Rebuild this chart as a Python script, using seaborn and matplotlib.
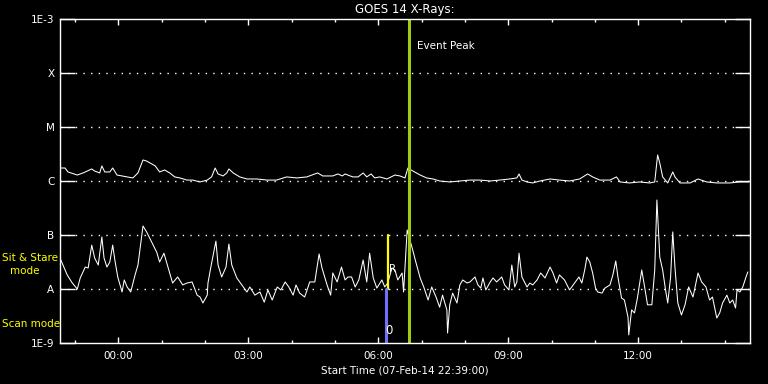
import numpy as np
import pandas as pd
import seaborn as sns
import matplotlib.pyplot as plt
import matplotlib.dates as mdates

# minutes after start time (07-Feb-14 22:39:00) and flux (W/m^2)
long_min = [0, 7, 11, 24, 32, 44, 48, 55, 58, 62, 69, 73, 79, 86, 93, 101, 108, 115, 120, 125,
            132, 138, 145, 152, 159, 166, 176, 184, 194, 204, 210, 215, 219, 226, 231, 234, 240, 249, 259, 273,
            287, 300, 314, 328, 342, 349, 357, 364, 378, 385, 391, 395, 402, 406, 413, 420, 425, 431, 436, 443,
            453, 464, 471, 478, 482, 489, 499, 508, 517, 526, 540, 554, 568, 582, 596, 609, 623, 633, 636, 640,
            647, 655, 665, 679, 692, 706, 720, 731, 738, 748, 762, 771, 776, 789, 803, 817, 824, 828, 831, 835,
            842, 849, 852, 859, 873, 884, 896, 910, 928, 942, 954]
long_flux = [1.74e-6, 1.74e-6, 1.47e-6, 1.29e-6, 1.41e-6, 1.67e-6, 1.53e-6, 1.41e-6, 1.90e-6, 1.47e-6,
             1.47e-6, 1.74e-6, 1.29e-6, 1.24e-6, 1.19e-6, 1.14e-6, 1.41e-6, 2.45e-6, 2.34e-6, 2.15e-6,
             1.90e-6, 1.47e-6, 1.60e-6, 1.41e-6, 1.19e-6, 1.14e-6, 1.04e-6, 1.04e-6, 9.6e-7, 1.04e-6,
             1.19e-6, 1.74e-6, 1.35e-6, 1.24e-6, 1.41e-6, 1.67e-6, 1.41e-6, 1.19e-6, 1.09e-6, 1.09e-6,
             1.04e-6, 1.04e-6, 1.19e-6, 1.14e-6, 1.19e-6, 1.29e-6, 1.41e-6, 1.24e-6, 1.24e-6, 1.35e-6,
             1.24e-6, 1.35e-6, 1.24e-6, 1.19e-6, 1.19e-6, 1.41e-6, 1.19e-6, 1.35e-6, 1.14e-6, 1.19e-6,
             1.09e-6, 1.29e-6, 1.24e-6, 1.14e-6, 1.74e-6, 1.53e-6, 1.29e-6, 1.14e-6, 1.09e-6, 1.0e-6,
             9.6e-7, 1.0e-6, 1.04e-6, 1.04e-6, 1.0e-6, 1.04e-6, 1.09e-6, 1.14e-6, 1.35e-6, 1.04e-6,
             9.6e-7, 9.2e-7, 1.0e-6, 1.09e-6, 1.04e-6, 1.0e-6, 1.09e-6, 1.35e-6, 1.19e-6, 1.04e-6,
             1.04e-6, 1.19e-6, 9.6e-7, 9.2e-7, 9.6e-7, 9.2e-7, 9.6e-7, 3.03e-6, 2.15e-6, 1.19e-6,
             9.2e-7, 1.47e-6, 1.19e-6, 9.2e-7, 9.2e-7, 1.09e-6, 9.6e-7, 9.2e-7, 9.2e-7, 9.6e-7, 9.6e-7]

short_min = [0, 10, 17, 24, 28, 35, 39, 44, 48, 53, 58, 61, 65, 69, 73, 76, 80, 86, 89, 93,
             98, 104, 108, 115, 120, 127, 134, 138, 144, 150, 156, 163, 170, 176, 183, 190, 194, 198, 204, 205,
             209, 216, 219, 224, 230, 234, 238, 245, 252, 259, 263, 270, 277, 283, 288, 294, 301, 306, 312, 317,
             323, 327, 332, 339, 346, 353, 359, 363, 370, 375, 378, 384, 390, 395, 399, 404, 409, 414, 420, 425,
             429, 434, 439, 446, 450, 454, 460, 464, 468, 474, 476, 481, 488, 493, 499, 504, 510, 515, 521, 526,
             530, 536, 537, 540, 544, 550, 554, 558, 564, 568, 575, 579, 583, 586, 590, 596, 600, 605, 612, 616,
             622, 626, 630, 633, 636, 640, 647, 651, 655, 661, 666, 672, 679, 683, 688, 692, 699, 706, 713, 719,
             723, 727, 730, 734, 738, 742, 745, 751, 755, 762, 766, 770, 773, 778, 782, 787, 788, 792, 796, 800,
             806, 810, 814, 820, 824, 827, 831, 835, 839, 842, 846, 849, 852, 856, 861, 866, 871, 877, 884, 889,
             895, 900, 904, 910, 914, 918, 924, 928, 932, 936, 938, 942, 946, 950, 953]
short_flux = [3.75e-8, 1.82e-8, 1.29e-8, 1.0e-8, 1.60e-8, 2.55e-8, 2.45e-8, 6.5e-8, 3.75e-8, 2.78e-8,
              9.2e-8, 3.75e-8, 2.55e-8, 3.16e-8, 6.5e-8, 3.44e-8, 1.67e-8, 8.8e-9, 1.47e-8, 1.09e-8,
              8.8e-9, 1.82e-8, 2.78e-8, 1.47e-7, 1.14e-7, 7.4e-8, 4.8e-8, 3.16e-8, 4.6e-8, 2.45e-8,
              1.29e-8, 1.67e-8, 1.19e-8, 1.29e-8, 1.35e-8, 7.7e-9, 7.1e-9, 5.5e-9, 7.7e-9, 1.29e-8,
              2.55e-8, 7.7e-8, 2.78e-8, 1.67e-8, 2.55e-8, 6.8e-8, 2.78e-8, 1.60e-8, 1.19e-8, 8.8e-9,
              1.09e-8, 7.7e-9, 8.8e-9, 5.7e-9, 9.6e-9, 6.25e-9, 1.09e-8, 9.6e-9, 1.35e-8, 1.09e-8,
              7.7e-9, 1.19e-8, 8.4e-9, 7.1e-9, 1.35e-8, 1.35e-8, 4.45e-8, 2.45e-8, 1.19e-8, 7.7e-9,
              1.98e-8, 1.35e-8, 2.55e-8, 1.47e-8, 1.67e-8, 1.67e-8, 1.09e-8, 1.47e-8, 3.44e-8, 1.35e-8,
              4.6e-8, 1.60e-8, 1.04e-8, 1.47e-8, 1.09e-8, 1.29e-8, 2.45e-8, 2.25e-8, 1.47e-8, 1.98e-8,
              8.8e-9, 1.24e-7, 5.7e-8, 3.16e-8, 1.60e-8, 1.09e-8, 6.25e-9, 1.09e-8, 7.1e-9, 4.6e-9,
              7.7e-9, 4.1e-9, 1.53e-9, 5.1e-9, 8.4e-9, 5.5e-9, 1.19e-8, 1.47e-8, 1.29e-8, 1.35e-8,
              1.67e-8, 1.19e-8, 1.04e-8, 1.60e-8, 9.6e-9, 1.35e-8, 1.60e-8, 1.35e-8, 1.67e-8, 1.19e-8,
              9.6e-9, 2.78e-8, 1.09e-8, 1.35e-8, 4.6e-8, 1.67e-8, 1.09e-8, 1.29e-8, 1.19e-8, 1.47e-8,
              1.98e-8, 1.60e-8, 2.55e-8, 1.98e-8, 1.29e-8, 1.82e-8, 1.47e-8, 9.6e-9, 1.29e-8, 1.67e-8,
              1.29e-8, 2.25e-8, 3.9e-8, 3.16e-8, 1.98e-8, 1.04e-8, 8.8e-9, 8.4e-9, 1.04e-8, 1.19e-8,
              1.82e-8, 3.30e-8, 1.67e-8, 6.8e-9, 6.25e-9, 3.0e-9, 1.41e-9, 4.1e-9, 3.6e-9, 6.8e-9,
              2.25e-8, 1.09e-8, 5.1e-9, 5.1e-9, 2.25e-8, 4.45e-7, 3.9e-8, 2.25e-8, 9.6e-9, 5.5e-9,
              1.67e-8, 1.14e-7, 2.55e-8, 5.5e-9, 3.3e-9, 5.1e-9, 1.09e-8, 7.1e-9, 1.98e-8, 1.35e-8,
              1.09e-8, 6.25e-9, 7.1e-9, 2.9e-9, 3.6e-9, 5.5e-9, 7.7e-9, 5.5e-9, 6.25e-9, 4.45e-9,
              9.6e-9, 8.8e-9, 1.09e-8, 1.60e-8, 2.07e-8]

start = pd.Timestamp('2014-02-07 22:39:00')
end_min = 956
peak_min = 483      # Event Peak
stare_min = 454     # sit & stare marker
scan_min = 451      # scan marker

class_levels = [1e-9, 1e-8, 1e-7, 1e-6, 1e-5, 1e-4, 1e-3]
class_labels = ['1E-9', 'A', 'B', 'C', 'M', 'X', '1E-3']

long_df = pd.DataFrame({'time': start + pd.to_timedelta(long_min, unit='m'), 'flux': long_flux})
short_df = pd.DataFrame({'time': start + pd.to_timedelta(short_min, unit='m'), 'flux': short_flux})

sns.set_style('dark')
plt.rcParams.update({'figure.facecolor': 'black', 'axes.facecolor': 'black',
                     'axes.edgecolor': 'white', 'text.color': 'white',
                     'xtick.color': 'white', 'ytick.color': 'white'})
plt.rcParams['font.family'] = ['DejaVu Sans']

fig = plt.figure(figsize=(7.68, 3.84), dpi=100)
ax = fig.add_axes([60/768, 41/384, 690/768, 324/384])

sns.lineplot(data=long_df, x='time', y='flux', color='white', linewidth=0.75, ax=ax)
sns.lineplot(data=short_df, x='time', y='flux', color='white', linewidth=0.75, ax=ax)

ax.set_yscale('log')
ax.set_ylim(1e-9, 1e-3)
ax.set_xlim(start, start + pd.Timedelta(minutes=end_min))

for lev in class_levels[1:-1]:
    ax.axhline(lev, color='white', linewidth=1, linestyle=(0, (1, 4.5)))

t_peak = start + pd.Timedelta(minutes=peak_min)
t_stare = start + pd.Timedelta(minutes=stare_min)
t_scan = start + pd.Timedelta(minutes=scan_min)
ax.axvline(t_peak, color='#a0cc10', linewidth=2.2)
ax.plot([t_stare, t_stare], [1e-8, 1e-7], color='#ffff00', linewidth=1.6)
ax.plot([t_scan, t_scan], [1e-9, 1e-8], color='#7070ff', linewidth=2.2)

ax.text(t_peak + pd.Timedelta(minutes=12), 3.2e-4, 'Event Peak', fontsize=7.5, color='white',
        ha='left', va='center')
ax.text(t_stare + pd.Timedelta(minutes=7), 2.3e-8, 'R', fontsize=7.5, color='white', ha='center', va='center')
ax.text(t_scan + pd.Timedelta(minutes=5), 1.7e-9, '0', fontsize=8.5, color='white', ha='center', va='center')

ax.set_yticks(class_levels)
ax.set_yticklabels(class_labels)
ax.yaxis.set_minor_locator(plt.NullLocator())
ax.tick_params(axis='y', which='major', direction='in', length=10.5, width=1,
               left=True, right=True, labelsize=7.5, pad=4)

ax.xaxis.set_major_locator(mdates.HourLocator(byhour=range(0, 24, 3)))
ax.xaxis.set_minor_locator(mdates.HourLocator())
ax.xaxis.set_major_formatter(mdates.DateFormatter('%H:%M'))
ax.tick_params(axis='x', which='major', direction='in', length=4.5, width=1,
               top=True, bottom=True, labelsize=7.5, pad=6)
ax.tick_params(axis='x', which='minor', direction='in', length=2.3, width=1,
               top=True, bottom=True)

ax.set_xlabel('Start Time (07-Feb-14 22:39:00)', fontsize=7.5, color='white', labelpad=3)
ax.set_ylabel('')
ax.set_title('GOES 14 X-Rays:', fontsize=8.5, color='white', pad=4)
for s in ax.spines.values():
    s.set_color('white')
    s.set_linewidth(1)
ax.grid(False)

fig.text(2/768, 1 - 258/384, 'Sit & Stare', fontsize=7.5, color='#ffff00', va='center', ha='left')
fig.text(25/768, 1 - 271/384, 'mode', fontsize=7.5, color='#ffff00', va='center', ha='center')
fig.text(2/768, 1 - 324/384, 'Scan mode', fontsize=7.5, color='#ffff00', va='center', ha='left')

fig.savefig('out.png', dpi=100, facecolor='black')
